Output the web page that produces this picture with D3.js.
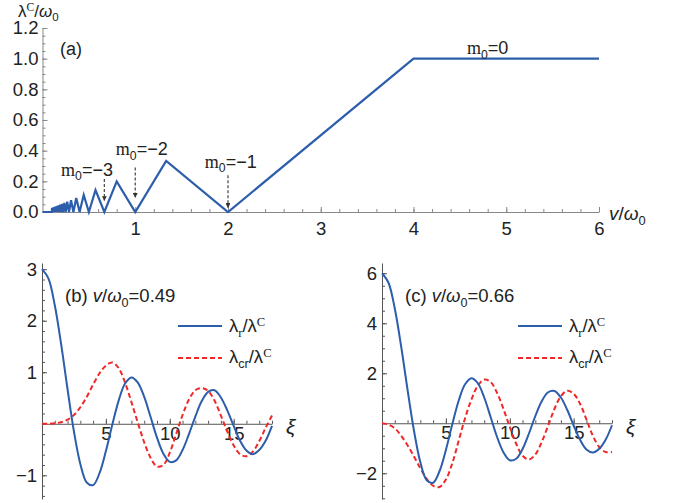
<!DOCTYPE html>
<html lang="en">
<head>
<meta charset="utf-8">
<title>lambda C vs v</title>
<script src="https://cdn.jsdelivr.net/npm/d3@7/dist/d3.min.js"></script>
<style>
  body { margin: 0; background: #fff; }
  text { font-family: "Liberation Sans", Arial, sans-serif; }
</style>
</head>
<body>
<script>

// (a) lambda^C/omega0 vs v/omega0 (vertices of the zigzag)
var vValues   = [0, 0.1, 0.1026, 0.1053, 0.1081, 0.1111, 0.1143, 0.1176, 0.1212, 0.125, 0.129, 0.1333, 0.1379, 0.1429, 0.1481, 0.1538, 0.16, 0.1667, 0.1739, 0.1818, 0.1905, 0.2, 0.2105, 0.2222, 0.2353, 0.25, 0.2667, 0.2857, 0.3077, 0.3333, 0.3636, 0.4, 0.4444, 0.5, 0.5714, 0.6667, 0.8, 1, 1.3333, 2, 4, 6];
var lamCValues = [0, 0, 0.0256, 0, 0.027, 0, 0.0286, 0, 0.0303, 0, 0.0323, 0, 0.0345, 0, 0.037, 0, 0.04, 0, 0.0435, 0, 0.0476, 0, 0.0526, 0, 0.0588, 0, 0.0667, 0, 0.0769, 0, 0.0909, 0, 0.1111, 0, 0.1429, 0, 0.2, 0, 0.3333, 0, 1, 1];
var topXTicks = [1, 2, 3, 4, 5, 6];
var topYTicks = [0, 0.2, 0.4, 0.6, 0.8, 1.0, 1.2];

// (b), (c) curves vs xi
var xiValues = [0, 0.5, 1, 1.5, 2, 2.5, 3, 3.5, 4, 4.5, 5, 5.5, 6, 6.5, 7, 7.5, 8, 8.5, 9, 9.5, 10, 10.5, 11, 11.5, 12, 12.5, 13, 13.5, 14, 14.5, 15, 15.5, 16, 16.5, 17, 17.5, 18];
var lamRb  = [3.00, 2.82, 2.30, 1.54, 0.67, -0.15, -0.78, -1.14, -1.19, -0.96, -0.53, -0.02, 0.45, 0.78, 0.90, 0.80, 0.52, 0.13, -0.27, -0.58, -0.74, -0.71, -0.51, -0.20, 0.14, 0.44, 0.62, 0.65, 0.51, 0.26, -0.04, -0.33, -0.52, -0.59, -0.51, -0.33, -0.04];
var lamCrb = [0, 0.00, 0.01, 0.03, 0.08, 0.17, 0.32, 0.52, 0.76, 0.98, 1.13, 1.19, 1.08, 0.80, 0.42, 0.02, -0.36, -0.66, -0.83, -0.80, -0.56, -0.20, 0.17, 0.47, 0.65, 0.69, 0.64, 0.45, 0.16, -0.15, -0.42, -0.59, -0.63, -0.54, -0.34, -0.08, 0.16];
var lamRc  = [6.00, 5.63, 4.59, 3.07, 1.34, -0.29, -1.56, -2.28, -2.38, -1.92, -1.07, -0.04, 0.90, 1.56, 1.80, 1.60, 1.03, 0.25, -0.54, -1.16, -1.48, -1.42, -1.03, -0.41, 0.29, 0.88, 1.24, 1.29, 1.03, 0.53, -0.09, -0.66, -1.05, -1.17, -1.02, -0.66, -0.08];
var lamCrc = [0, -0.05, -0.20, -0.50, -0.88, -1.33, -1.80, -2.22, -2.50, -2.55, -2.25, -1.60, -0.70, 0.20, 0.95, 1.50, 1.75, 1.65, 1.22, 0.58, -0.15, -0.82, -1.30, -1.45, -1.25, -0.75, -0.10, 0.58, 1.08, 1.30, 1.18, 0.78, 0.15, -0.50, -0.95, -1.15, -1.15];
var bottomXTicks = [5, 10, 15];
var bYTicks = [-1, 1, 2, 3];
var cYTicks = [-2, 2, 4, 6];

var blue = "#2c5eac";
var red = "#f02828";

var w = 678, h = 503;
var svg = d3.select("body").append("svg")
    .attr("width", w)
    .attr("height", h);

svg.append("rect").attr("width", w).attr("height", h).attr("fill", "white");

// little helper for text with sub/superscripts
function richText(sel, x, y, size, parts, anchor) {
  var t = sel.append("text")
      .attr("x", x).attr("y", y)
      .attr("font-size", size)
      .attr("fill", "#222")
      .attr("text-anchor", anchor || "start");
  var shift = 0;
  parts.forEach(function(p) {
    var want = p.sub ? size * 0.25 : (p.sup ? -size * 0.34 : 0);
    var ts = t.append("tspan").text(p.t).attr("dy", want - shift);
    shift = want;
    if (p.sub || p.sup) ts.attr("font-size", size * 0.68);
    if (p.it) ts.attr("font-style", "italic");
    if (p.serif) ts.attr("font-family", "'Liberation Serif', 'DejaVu Serif', serif");
  });
  return t;
}

var tickFont = 18.5;

// ---------- panel (a) ----------
var xA = d3.scaleLinear().domain([0, 6]).range([42.5, 599]);
var yA = d3.scaleLinear().domain([0, 1.2]).range([212, 28]);

var gA = svg.append("g");

gA.append("g")
  .attr("transform", "translate(0," + yA(0) + ")")
  .call(d3.axisBottom(xA).tickValues(d3.range(0.2, 6.01, 0.2)).tickFormat("").tickSizeInner(-3).tickSizeOuter(0))
  .call(function(g) { g.select(".domain").remove(); });
gA.append("g")
  .attr("transform", "translate(0," + yA(0) + ")")
  .call(d3.axisBottom(xA).tickValues(topXTicks).tickFormat(d3.format("d")).tickSizeInner(-5).tickSizeOuter(0).tickPadding(10))
  .call(function(g) { g.selectAll("text").attr("font-size", tickFont).attr("fill", "#222").attr("font-family", null); });

gA.append("g")
  .attr("transform", "translate(" + xA(0) + ",0)")
  .call(d3.axisLeft(yA).tickValues(d3.range(0.05, 1.21, 0.05)).tickFormat("").tickSizeInner(-3).tickSizeOuter(0))
  .call(function(g) { g.select(".domain").remove(); });
gA.append("g")
  .attr("transform", "translate(" + xA(0) + ",0)")
  .call(d3.axisLeft(yA).tickValues(topYTicks).tickFormat(d3.format(".1f")).tickSizeInner(-5).tickSizeOuter(0).tickPadding(4))
  .call(function(g) { g.selectAll("text").attr("font-size", tickFont).attr("fill", "#222").attr("font-family", null); });

gA.selectAll(".domain, .tick line").attr("stroke", "#888");

gA.append("path")
  .datum(vValues.map(function(v, i) { return [v, lamCValues[i]]; }))
  .attr("fill", "none")
  .attr("stroke", blue)
  .attr("stroke-width", 2.2)
  .attr("stroke-linejoin", "miter")
  .attr("d", d3.line().x(function(d) { return xA(d[0]); }).y(function(d) { return yA(d[1]); }));

// axis labels
richText(svg, 18, 17, 17, [{t: "λ"}, {t: "C", sup: true, serif: true}, {t: "/"}, {t: "ω", it: true}, {t: "0", sub: true}]);
richText(svg, 609, 220, 19, [{t: "v", it: true}, {t: "/"}, {t: "ω", it: true}, {t: "0", sub: true}]);
richText(svg, 60, 55, 18, [{t: "(a)"}]);

// m0 annotations
svg.append("defs").append("marker")
  .attr("id", "arr")
  .attr("viewBox", "0 0 10 10")
  .attr("refX", 9).attr("refY", 5)
  .attr("markerWidth", 4).attr("markerHeight", 4)
  .attr("orient", "auto")
  .append("path").attr("d", "M0,0 L10,5 L0,10 z").attr("fill", "#333");

var arrows = [
  {v: 2 / 3, y0: 0.215, y1: 0.075, label: "−3", lx: 0.48, ly: 0.235},
  {v: 1, y0: 0.29, y1: 0.095, label: "−2", lx: 1.07, ly: 0.37},
  {v: 2, y0: 0.24, y1: 0.03, label: "−1", lx: 2.03, ly: 0.29}
];
arrows.forEach(function(a) {
  svg.append("line")
    .attr("x1", xA(a.v)).attr("x2", xA(a.v))
    .attr("y1", yA(a.y0)).attr("y2", yA(a.y1))
    .attr("stroke", "#444").attr("stroke-width", 1.2)
    .attr("stroke-dasharray", "3,2")
    .attr("marker-end", "url(#arr)");
  richText(svg, xA(a.lx), yA(a.ly), 18, [{t: "m", serif: true}, {t: "0", sub: true}, {t: "=" + a.label}], "middle");
});
richText(svg, xA(4.8), yA(1.03), 18, [{t: "m", serif: true}, {t: "0", sub: true}, {t: "=0"}], "middle");

// ---------- panels (b), (c) ----------
function panel(x0, yDom, yMinorStep, yTicks, rVals, crVals, label) {
  var x = d3.scaleLinear().domain([0, 18]).range([x0, x0 + 230]);
  var y = d3.scaleLinear().domain(yDom).range([499, 263]);
  var g = svg.append("g");

  g.append("g")
    .attr("transform", "translate(0," + y(0) + ")")
    .call(d3.axisBottom(x).tickValues(d3.range(1, 18.5, 1)).tickFormat("").tickSizeInner(-3).tickSizeOuter(0))
    .call(function(s) { s.select(".domain").remove(); });
  g.append("g")
    .attr("transform", "translate(0," + y(0) + ")")
    .call(d3.axisBottom(x).tickValues(bottomXTicks).tickSizeInner(-5).tickSizeOuter(0).tickPadding(3))
    .call(function(s) { s.selectAll("text").attr("font-size", tickFont).attr("fill", "#222").attr("font-family", null); });

  var minor = d3.range(Math.ceil(yDom[0] / yMinorStep) * yMinorStep, yDom[1], yMinorStep);
  g.append("g")
    .attr("transform", "translate(" + x(0) + ",0)")
    .call(d3.axisLeft(y).tickValues(minor).tickFormat("").tickSizeInner(-3).tickSizeOuter(0));
  g.append("g")
    .attr("transform", "translate(" + x(0) + ",0)")
    .call(d3.axisLeft(y).tickValues(yTicks).tickFormat(d3.format("d")).tickSizeInner(-5).tickSizeOuter(0).tickPadding(5))
    .call(function(s) {
      s.select(".domain").remove();
      s.selectAll("text").attr("font-size", tickFont).attr("fill", "#222").attr("font-family", null);
    });
  g.selectAll(".domain, .tick line").attr("stroke", "#555");

  var line = d3.line()
    .x(function(d) { return x(d[0]); })
    .y(function(d) { return y(d[1]); })
    .curve(d3.curveCatmullRom.alpha(0.5));

  g.append("path")
    .datum(xiValues.map(function(v, i) { return [v, crVals[i]]; }))
    .attr("fill", "none").attr("stroke", red).attr("stroke-width", 2)
    .attr("stroke-dasharray", "5,3")
    .attr("d", line);
  g.append("path")
    .datum(xiValues.map(function(v, i) { return [v, rVals[i]]; }))
    .attr("fill", "none").attr("stroke", blue).attr("stroke-width", 2)
    .attr("d", line);

  // legend
  g.append("line").attr("x1", x0 + 136).attr("x2", x0 + 180).attr("y1", 326).attr("y2", 326)
    .attr("stroke", blue).attr("stroke-width", 2);
  g.append("line").attr("x1", x0 + 136).attr("x2", x0 + 180).attr("y1", 358).attr("y2", 358)
    .attr("stroke", red).attr("stroke-width", 2).attr("stroke-dasharray", "5,3");
  richText(g, x0 + 187, 332, 18.5, [{t: "λ"}, {t: "r", sub: true, serif: true}, {t: "/λ"}, {t: "C", sup: true, serif: true}]);
  richText(g, x0 + 187, 363, 18.5, [{t: "λ"}, {t: "cr", sub: true}, {t: "/λ"}, {t: "C", sup: true, serif: true}]);

  richText(g, x0 + 23, 302, 18.5, [{t: "(" + label[0] + ") "}, {t: "v", it: true}, {t: "/"}, {t: "ω", it: true}, {t: "0", sub: true}, {t: "=" + label[1]}]);
  richText(g, x0 + 244, 434, 21, [{t: "ξ", it: true}]);
}

panel(42, [-1.46, 3.12], 0.2, bYTicks, lamRb, lamCrb, ["b", "0.49"]);
panel(382, [-3.03, 6.41], 0.5, cYTicks, lamRc, lamCrc, ["c", "0.66"]);

</script>
</body>
</html>
